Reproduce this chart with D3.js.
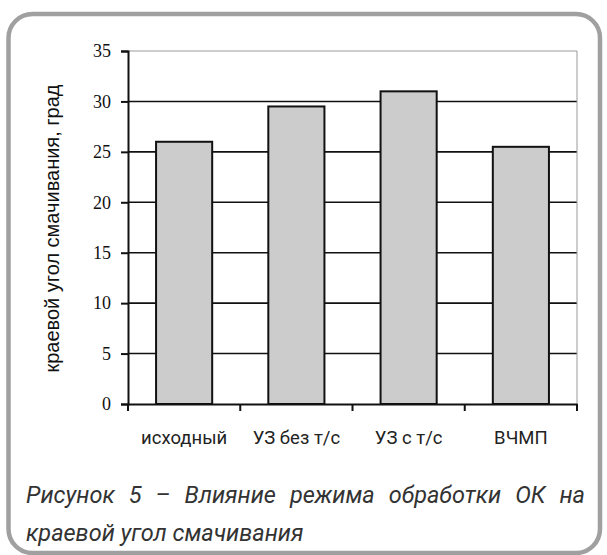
<!DOCTYPE html>
<html><head><meta charset="utf-8">
<script src="https://cdn.jsdelivr.net/npm/d3@7/dist/d3.min.js"></script>
<style>body{margin:0;background:#fff}svg{display:block}</style>
</head><body>
<script>
const categories = ["исходный", "УЗ без т/с", "УЗ с т/с", "ВЧМП"];
const values = [26, 29.5, 31, 25.5];
const yTicks = [0, 5, 10, 15, 20, 25, 30, 35];
const yLabel = "краевой угол смачивания, град";
const captionLines = ["Рисунок 5 – Влияние режима обработки ОК на", "краевой угол смачивания"];

const W = 607, H = 555;
const svg = d3.select("body").append("svg").attr("width", W).attr("height", H);

// frame
svg.append("rect").attr("x", 8.5).attr("y", 14).attr("width", 591.5).attr("height", 539)
  .attr("rx", 24).attr("fill", "none").attr("stroke", "#a0a0a0").attr("stroke-width", 4.5);

const L = 128, R = 577, T = 51, B = 404;
const x = d3.scaleBand().domain(categories).range([L, R]).paddingInner(0.5).paddingOuter(0.25);
const y = d3.scaleLinear().domain([0, 35]).range([B, T]);

// gridlines
svg.append("g").selectAll("line").data(yTicks.filter(v => v > 0)).join("line")
  .attr("x1", L).attr("x2", R).attr("y1", d => y(d)).attr("y2", d => y(d))
  .attr("stroke", d => d === 35 ? "#9a9a9a" : "#111").attr("stroke-width", d => d === 35 ? 1 : 1.6);
svg.append("line").attr("x1", R).attr("x2", R).attr("y1", T).attr("y2", B)
  .attr("stroke", "#9a9a9a").attr("stroke-width", 1);

// bars
svg.append("g").selectAll("rect").data(values).join("rect")
  .attr("x", (d, i) => x(categories[i])).attr("width", x.bandwidth())
  .attr("y", d => y(d)).attr("height", d => B - y(d))
  .attr("fill", "#cccccc").attr("stroke", "#111").attr("stroke-width", 2);

// y axis
const ya = svg.append("g").attr("transform", `translate(${L},0)`)
  .call(d3.axisLeft(y).tickValues(yTicks).tickSize(7).tickPadding(10));
ya.select(".domain").attr("stroke", "#111").attr("stroke-width", 2);
ya.selectAll(".tick line").attr("stroke", "#111").attr("stroke-width", 2);
ya.selectAll(".tick text").attr("font-family", "'Liberation Serif', serif").attr("font-size", 18).attr("fill", "#111");

// x axis
const xa = svg.append("g").attr("transform", `translate(0,${B})`)
  .call(d3.axisBottom(x).tickSize(0).tickPadding(27));
xa.select(".domain").attr("stroke", "#111").attr("stroke-width", 2);
xa.selectAll(".tick text").attr("font-family", "Roboto, sans-serif").attr("font-size", 18.5).attr("fill", "#222");
const bounds = categories.map(c => x(c) - x.step() * x.paddingInner() / 2).concat([R]);
bounds[0] = L;
svg.append("g").selectAll("line").data(bounds).join("line")
  .attr("x1", d => d).attr("x2", d => d).attr("y1", B).attr("y2", B + 7)
  .attr("stroke", "#111").attr("stroke-width", 2);

// y label
svg.append("text").attr("transform", `translate(59,${(T + B) / 2 + 1}) rotate(-90)`)
  .attr("text-anchor", "middle").attr("font-family", "'Liberation Sans', Arial, sans-serif").attr("font-size", 20)
  .attr("fill", "#111").text(yLabel);

// caption (first line justified between 26 and 585)
const capFont = "Roboto, sans-serif", capSize = 23.5, capWeight = 400;
const words = captionLines[0].split(" ");
const tmp = svg.append("g");
const widths = words.map(w => {
  const t = tmp.append("text").attr("font-family", capFont).attr("font-style", "italic")
    .attr("font-weight", capWeight).attr("font-size", capSize).text(w);
  return t.node().getComputedTextLength();
});
tmp.remove();
const x0 = 26, x1 = 585;
const gap = (x1 - x0 - d3.sum(widths)) / (words.length - 1);
let cx = x0;
const line1 = svg.append("text").attr("y", 503).attr("font-family", capFont).attr("font-style", "italic")
  .attr("font-weight", capWeight).attr("font-size", capSize).attr("fill", "#333");
words.forEach((w, i) => {
  line1.append("tspan").attr("x", cx).text(w);
  cx += widths[i] + gap;
});
svg.append("text").attr("x", 26).attr("y", 541).attr("font-family", capFont)
  .attr("font-style", "italic").attr("font-weight", capWeight).attr("font-size", capSize)
  .attr("fill", "#333").text(captionLines[1]);
</script>
</body></html>
